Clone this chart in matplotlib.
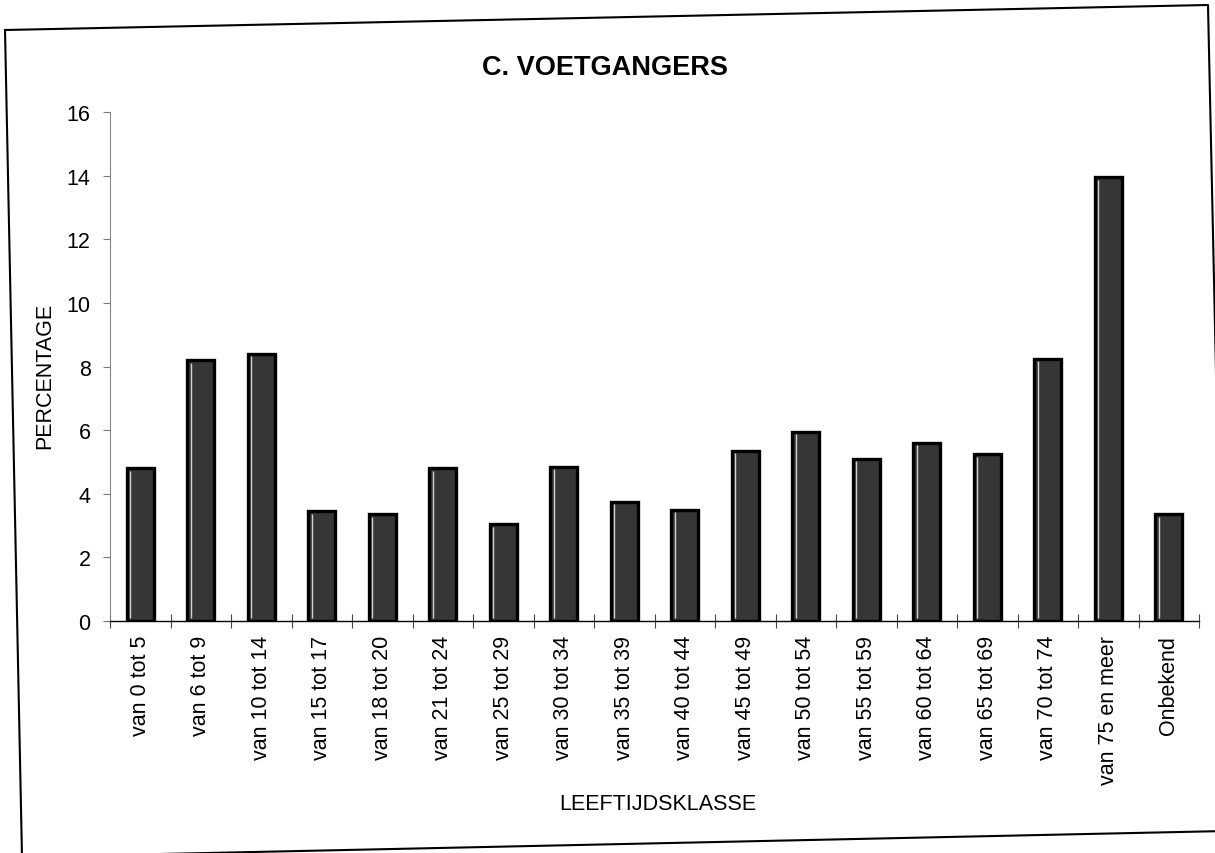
import matplotlib
matplotlib.use("Agg")
import matplotlib.pyplot as plt
from matplotlib.lines import Line2D
import numpy as np

categories = ["van 0 tot 5", "van 6 tot 9", "van 10 tot 14", "van 15 tot 17",
              "van 18 tot 20", "van 21 tot 24", "van 25 tot 29", "van 30 tot 34",
              "van 35 tot 39", "van 40 tot 44", "van 45 tot 49", "van 50 tot 54",
              "van 55 tot 59", "van 60 tot 64", "van 65 tot 69", "van 70 tot 74",
              "van 75 en meer", "Onbekend"]
percentages = [4.8, 8.2, 8.4, 3.45, 3.35, 4.8, 3.05, 4.85, 3.75, 3.5,
               5.35, 5.95, 5.1, 5.6, 5.25, 8.25, 13.95, 3.35]
y_ticks = [0, 2, 4, 6, 8, 10, 12, 14, 16]

title = "C. VOETGANGERS"
xlabel = "LEEFTIJDSKLASSE"
ylabel = "PERCENTAGE"

plt.rcParams['font.family'] = ['Liberation Sans', 'DejaVu Sans']

W, H = 1215, 854
fig = plt.figure(figsize=(W / 100, H / 100), dpi=100)
fig.patch.set_facecolor("white")

ax = fig.add_axes([110 / W, 1 - 622 / H, 1089 / W, 509 / H])
x = np.arange(len(categories))
bw = 0.45
ax.bar(x, percentages, width=bw, color="#363636", edgecolor="black",
       linewidth=2.4, zorder=3)
# light inner highlight along the left edge of each bar
ax.vlines(x - bw / 2 + 0.06, 0.08, np.array(percentages) - 0.08,
          color="#d0d0d0", linewidth=1.0, zorder=4)

ax.set_xlim(-0.5, len(categories) - 0.5)
ax.set_ylim(0, 16)
ax.set_yticks(y_ticks)
ax.set_yticklabels([str(v) for v in y_ticks], fontsize=15.5)
ax.set_xticks(x)
ax.set_xticklabels(categories, rotation=90, fontsize=15.5)
ax.tick_params(axis="x", which="major", length=0, pad=10)
ax.set_xticks(np.arange(len(categories) + 1) - 0.5, minor=True)
ax.tick_params(axis="x", which="minor", direction="inout", length=10,
               width=0.8, color="#444444")
ax.tick_params(axis="y", direction="out", length=5, width=0.8,
               color="#777777", pad=9)

for side in ["top", "right"]:
    ax.spines[side].set_visible(False)
ax.spines["left"].set_color("#888888")
ax.spines["left"].set_linewidth(0.8)
ax.spines["bottom"].set_color("black")
ax.spines["bottom"].set_linewidth(1.0)

fig.text(45 / W, 1 - 376 / H, ylabel, fontsize=15.5, rotation=90,
         ha="center", va="center")
fig.text(658 / W, 1 - 805 / H, xlabel, fontsize=15.5, ha="center", va="center")
fig.text(605 / W, 1 - 68 / H, title, fontsize=19.5, fontweight="bold",
         ha="center", va="center")

# outer chart frame (slightly tilted scan)
corners = [(5, 31), (1208, 6), (1226, 832), (22, 858), (5, 31)]
fx = [c[0] / W for c in corners]
fy = [1 - c[1] / H for c in corners]
fig.add_artist(Line2D(fx, fy, transform=fig.transFigure, color="black",
                      linewidth=1.5))

fig.savefig("out.png", dpi=100, facecolor="white")
